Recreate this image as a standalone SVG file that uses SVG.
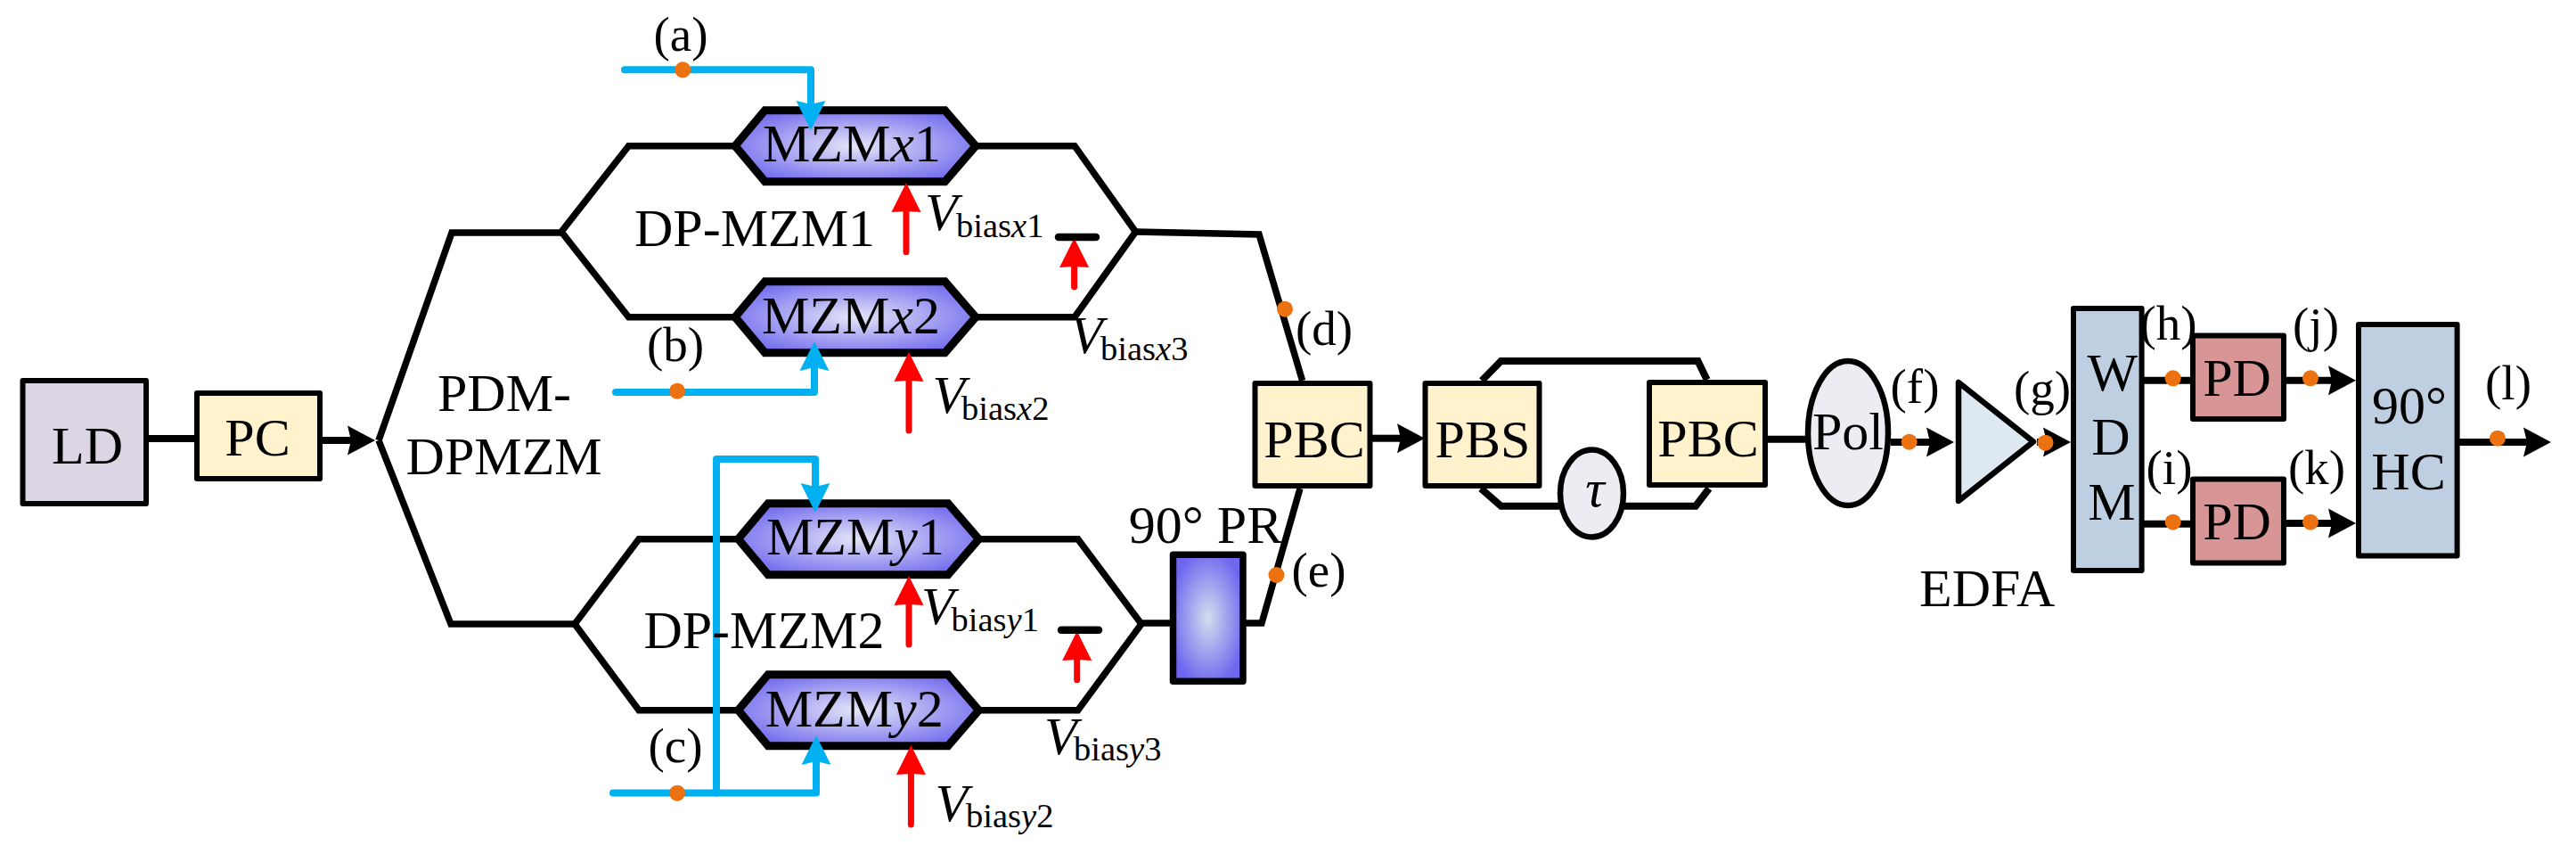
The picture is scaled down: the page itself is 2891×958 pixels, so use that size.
<svg xmlns="http://www.w3.org/2000/svg" width="2891" height="958" viewBox="0 0 2891 958">
<style>
text{font-family:"Liberation Serif","Times New Roman",serif;font-size:60px;fill:#000}
.c{text-anchor:middle}
.l{font-size:55px;text-anchor:middle}
.i{font-style:italic}
.s{font-size:38.5px}
.box{stroke:#000;stroke-width:6;stroke-linejoin:round}
.hex{fill:url(#g);stroke:#000;stroke-width:9}
.k{fill:none;stroke:#000;stroke-width:7.5;stroke-linejoin:miter}
.b{fill:none;stroke:#00B0F0;stroke-width:8;stroke-linecap:round;stroke-linejoin:round}
.r{fill:none;stroke:#F00;stroke-width:7;stroke-linecap:round}
.bar{fill:none;stroke:#000;stroke-width:8.5;stroke-linecap:round}
.a{fill:none;stroke:#000;stroke-width:8}
.d{fill:#EC7211}
.y{fill:#FFF2CC}.u{fill:#BFCFE2}.p{fill:#D79695}.e{fill:#EDECF3}
</style>
<defs>
<radialGradient id="g" cx="50%" cy="50%" r="60%"><stop offset="0" stop-color="#E4E6F6"/><stop offset="1" stop-color="#6E66EE"/></radialGradient>
<radialGradient id="g2" cx="50%" cy="50%" r="55%"><stop offset="0" stop-color="#D3DEEE"/><stop offset="1" stop-color="#6E66EE"/></radialGradient>
<marker id="mk" markerUnits="userSpaceOnUse" markerWidth="36" markerHeight="36" refX="4" refY="16.5" orient="auto" overflow="visible"><path d="M0,0L31,16.5L0,33L4,16.5Z" fill="#000"/></marker>
<marker id="mb" markerUnits="userSpaceOnUse" markerWidth="36" markerHeight="36" refX="4" refY="16.5" orient="auto" overflow="visible"><path d="M0,0L33,16.5L0,33L4,16.5Z" fill="#00B0F0"/></marker>
<marker id="mr" markerUnits="userSpaceOnUse" markerWidth="36" markerHeight="36" refX="1" refY="16.5" orient="auto" overflow="visible"><path d="M0,0L33,16.5L0,33L1,16.5Z" fill="#F00"/></marker>
<polygon id="hexa" points="5,0 38.5,-40 240.5,-40 275,0 240.5,40 38.5,40"/>
</defs>
<rect width="2891" height="958" fill="#fff"/>
<g id="LD"><rect class="box" x="25.5" y="427" width="138.5" height="138" fill="#DCD6E4"/><text class="c" x="98" y="519.5">LD</text></g>
<g id="PC"><rect class="box y" x="221" y="441" width="138" height="96"/><text class="c" x="289" y="511">PC</text></g>
<g id="MZMx1"><use href="#hexa" class="hex" transform="translate(820,163.7)"/><text x="856" y="180.7">MZM<tspan class="i">x</tspan>1</text></g>
<g id="MZMx2"><use href="#hexa" class="hex" transform="translate(820,355.7)"/><text x="855" y="374">MZM<tspan class="i">x</tspan>2</text></g>
<g id="MZMy1"><use href="#hexa" class="hex" transform="translate(823.5,604.7)"/><text x="860" y="621.7">MZM<tspan class="i">y</tspan>1</text></g>
<g id="MZMy2"><use href="#hexa" class="hex" transform="translate(823.5,796.7)"/><text x="858.7" y="815">MZM<tspan class="i">y</tspan>2</text></g>
<g id="PR"><rect x="1316.5" y="622.3" width="78.5" height="142" fill="url(#g2)" stroke="#000" stroke-width="7.5" stroke-linejoin="round"/><text x="1266.8" y="609">90° PR</text></g>
<g id="PBC1"><rect class="box y" x="1408.5" y="430" width="129" height="115"/><text class="c" x="1475" y="513">PBC</text></g>
<g id="PBS"><rect class="box y" x="1599.5" y="430" width="128" height="115"/><text class="c" x="1664" y="513">PBS</text></g>
<g id="tau"><ellipse class="e" cx="1786.5" cy="553.5" rx="35.5" ry="49" stroke="#000" stroke-width="6.5"/><text class="c i" x="1790" y="568">τ</text></g>
<g id="PBC2"><rect class="box y" x="1851" y="429" width="130" height="115"/><text class="c" x="1917" y="511.7">PBC</text></g>
<g id="Pol"><ellipse class="e" cx="2074" cy="486" rx="45" ry="81" stroke="#000" stroke-width="6.5"/><text class="c" x="2074" y="504">Pol</text></g>
<g id="EDFA"><polygon points="2198,429 2198,562 2282,495.5" fill="#DFE9F4" stroke="#000" stroke-width="6.5" stroke-linejoin="round"/><text x="2154" y="680">EDFA</text></g>
<g id="WDM"><rect class="box u" x="2327" y="346" width="76.6" height="294"/><text class="c" x="2370.7" y="438">W</text><text class="c" x="2369" y="510">D</text><text class="c" x="2370" y="583.3">M</text></g>
<g id="PD1"><rect class="box p" x="2461" y="376.5" width="102" height="93.5"/><text class="c" x="2510.6" y="444">PD</text></g>
<g id="PD2"><rect class="box p" x="2461" y="537.5" width="102" height="94"/><text class="c" x="2510.6" y="605">PD</text></g>
<g id="HC"><rect class="box u" x="2647" y="364" width="110.6" height="259.5"/><text class="c" x="2704" y="475">90°</text><text class="c" x="2703" y="549">HC</text></g>
<g id="connectors">
<path class="a" d="M167,492H218"/>
<path class="a" d="M362,494H394" marker-end="url(#mk)"/>
<path class="k" d="M425,494L507,261H631M425,494L506,700H645"/>
<path class="k" d="M826,163.7H705.5L630,260L705.5,355.7H826"/>
<path class="k" d="M1094,163.7H1206L1274.5,260L1206,355.7H1094"/>
<path class="k" d="M829.5,604.7H717L645,700L717,796.7H829.5"/>
<path class="k" d="M1097.5,604.7H1209.7L1281,700L1209.7,796.7H1097.5"/>
<path class="k" d="M1274.5,260L1413,263L1461.6,427"/>
<path class="k" d="M1281,699H1313M1398,699H1416L1459,548"/>
<path class="a" d="M1540,491.7H1572" marker-end="url(#mk)"/>
<path class="a" d="M1663,427L1684.6,405H1905.5L1915.7,426"/>
<path class="a" d="M1662,548L1684.6,567.7H1750M1823,567.7H1903L1918,548"/>
<path class="a" d="M1983,492.7H2027"/>
<path class="a" d="M2122,496H2166" marker-end="url(#mk)"/>
<path class="a" d="M2286,496H2297" marker-end="url(#mk)"/>
<path class="a" d="M2406,426.7H2458"/>
<path class="a" d="M2406,587.7H2458"/>
<path class="a" d="M2566,426.7H2617" marker-end="url(#mk)"/>
<path class="a" d="M2566,587H2617" marker-end="url(#mk)"/>
<path class="a" d="M2760,496H2836" marker-end="url(#mk)"/>
<path class="b" d="M701,78.3H910V117" marker-end="url(#mb)"/>
<path class="b" d="M691,440H914V412" marker-end="url(#mb)"/>
<path class="b" d="M688,889.5H916V854" marker-end="url(#mb)"/>
<path class="b" d="M804,889.5V515H915V546" marker-end="url(#mb)"/>
<path class="r" d="M1017,282.7V237" marker-end="url(#mr)"/>
<path class="r" d="M1020,483V427" marker-end="url(#mr)"/>
<path class="r" d="M1205.6,321.7V299" marker-end="url(#mr)"/>
<path class="r" d="M1020,723V678" marker-end="url(#mr)"/>
<path class="r" d="M1022.4,925V868" marker-end="url(#mr)"/>
<path class="r" d="M1208.7,762.7V740" marker-end="url(#mr)"/>
<path class="bar" d="M1188,266H1230M1191,706.7H1233"/>
<circle class="d" cx="766.3" cy="78.3" r="9"/><circle class="d" cx="760" cy="438.7" r="9"/><circle class="d" cx="760" cy="889.7" r="9"/>
<circle class="d" cx="1442" cy="346.7" r="9"/><circle class="d" cx="1432.5" cy="645" r="9"/>
<circle class="d" cx="2142.7" cy="495.7" r="9"/><circle class="d" cx="2295.5" cy="496.7" r="9"/>
<circle class="d" cx="2438.7" cy="424.3" r="9"/><circle class="d" cx="2438.7" cy="585.7" r="9"/>
<circle class="d" cx="2593" cy="424.3" r="9"/><circle class="d" cx="2593" cy="585.7" r="9"/>
<circle class="d" cx="2803" cy="491.7" r="9"/>
</g>
<g id="labels">
<text x="491" y="461">PDM-</text><text x="455.6" y="532.4">DPMZM</text>
<text x="712" y="275.7">DP-MZM1</text><text x="722.4" y="726.7">DP-MZM2</text>
<text class="i" x="1038" y="258">V</text><text class="s" x="1073" y="266">bias<tspan class="i">x</tspan>1</text>
<text class="i" x="1046.5" y="463.3">V</text><text class="s" x="1079" y="470.7">bias<tspan class="i">x</tspan>2</text>
<text class="i" x="1201" y="396">V</text><text class="s" x="1235" y="404">bias<tspan class="i">x</tspan>3</text>
<text class="i" x="1034" y="700">V</text><text class="s" x="1067.5" y="708">bias<tspan class="i">y</tspan>1</text>
<text class="i" x="1049.6" y="920.7">V</text><text class="s" x="1084" y="928">bias<tspan class="i">y</tspan>2</text>
<text class="i" x="1172" y="846">V</text><text class="s" x="1205" y="853">bias<tspan class="i">y</tspan>3</text>
<text class="l" x="764" y="57">(a)</text><text class="l" x="758" y="404.5">(b)</text><text class="l" x="758" y="855">(c)</text>
<text class="l" x="1486" y="387">(d)</text><text class="l" x="1480" y="658">(e)</text><text class="l" x="2149" y="452">(f)</text>
<text class="l" x="2292" y="454">(g)</text><text class="l" x="2433.5" y="381">(h)</text><text class="l" x="2434.5" y="542.7">(i)</text>
<text class="l" x="2599" y="383">(j)</text><text class="l" x="2600" y="542.7">(k)</text><text class="l" x="2815" y="447.7">(l)</text>
</g>
</svg>
